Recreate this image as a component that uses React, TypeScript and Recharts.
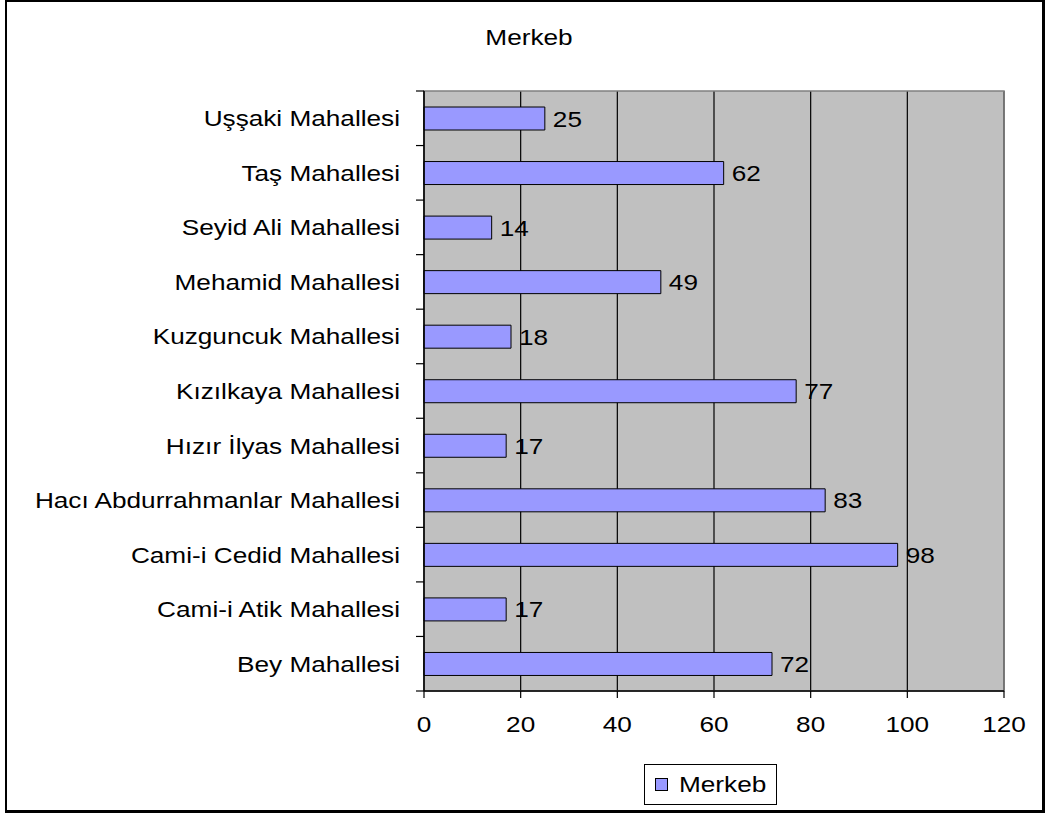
import React from 'react';
import { BarChart, Bar, XAxis, YAxis, CartesianGrid, LabelList, Legend, ReferenceArea } from 'recharts';

const categories = [
  'Uşşaki Mahallesi',
  'Taş Mahallesi',
  'Seyid Ali Mahallesi',
  'Mehamid Mahallesi',
  'Kuzguncuk Mahallesi',
  'Kızılkaya Mahallesi',
  'Hızır İlyas Mahallesi',
  'Hacı Abdurrahmanlar Mahallesi',
  'Cami-i Cedid Mahallesi',
  'Cami-i Atik Mahallesi',
  'Bey Mahallesi',
];
const merkebValues = [25, 62, 14, 49, 18, 77, 17, 83, 98, 17, 72];
const xTicks = [0, 20, 40, 60, 80, 100, 120];
const seriesName = 'Merkeb';
const titleText = 'Merkeb';

const data = categories.map((name, i) => ({ name, Merkeb: merkebValues[i] }));

const W = 1047;
const H = 814;
const PLOT_LEFT = 424;
const PLOT_TOP = 91;
const PLOT_RIGHT = 1004;
const PLOT_BOTTOM = 691;
const XAXIS_H = 40;
const BAND = (PLOT_BOTTOM - PLOT_TOP) / categories.length;
const SX = 1.19;
const FONT = '"Liberation Sans", Arial, sans-serif';
const FS = 22;

const YTick = (props: any) => {
  const { x, y, payload, index } = props;
  const axisX = x + 23;
  return (
    <g>
      <line x1={axisX - 8} x2={axisX} y1={y - BAND / 2} y2={y - BAND / 2} stroke="#000" strokeWidth={1.2} />
      {index === categories.length - 1 && (
        <line x1={axisX - 8} x2={axisX} y1={y + BAND / 2} y2={y + BAND / 2} stroke="#000" strokeWidth={1.2} />
      )}
      <g transform={`translate(${x - 1},${y + 8})`}>
        <text transform={`scale(${SX},1)`} textAnchor="end" fontFamily={FONT} fontSize={FS} fill="#000">
          {payload.value}
        </text>
      </g>
    </g>
  );
};

const XTick = (props: any) => {
  const { x, y, payload } = props;
  return (
    <g transform={`translate(${x},${y + 32})`}>
      <text transform={`scale(${SX},1)`} textAnchor="middle" fontFamily={FONT} fontSize={FS} fill="#000">
        {payload.value}
      </text>
    </g>
  );
};

const ValueLabel = (props: any) => {
  const { x, y, width, height, value } = props;
  return (
    <g transform={`translate(${x + width + 8},${y + height / 2 + 8})`}>
      <text transform={`scale(${SX},1)`} textAnchor="start" fontFamily={FONT} fontSize={FS} fill="#000">
        {value}
      </text>
    </g>
  );
};

const LegendBox = () => (
  <div
    style={{
      width: 133,
      height: 41,
      boxSizing: 'border-box',
      border: '1.5px solid #000',
      background: '#fff',
      display: 'flex',
      alignItems: 'center',
      paddingLeft: 10,
      fontFamily: FONT,
      fontSize: FS,
      color: '#000',
    }}
  >
    <div style={{ width: 13, height: 13, boxSizing: 'border-box', border: '1px solid #000', background: '#9999FF' }} />
    <span style={{ display: 'inline-block', marginLeft: 11, transform: `scaleX(${SX})`, transformOrigin: 'left center', lineHeight: '22px' }}>
      {seriesName}
    </span>
  </div>
);

export default function App() {
  return (
    <div style={{ position: 'absolute', left: 0, top: 0, width: W, height: H, background: '#fff' }}>
      <div
        style={{
          position: 'absolute',
          left: 5,
          top: 0,
          width: 1040,
          height: 813,
          boxSizing: 'border-box',
          borderLeft: '2px solid #000',
          borderTop: '2px solid #000',
          borderRight: '3px solid #000',
          borderBottom: '3px solid #000',
        }}
      />
      <div
        style={{
          position: 'absolute',
          left: 529 - 100,
          top: 25,
          width: 200,
          textAlign: 'center',
          fontFamily: FONT,
          fontSize: FS,
          color: '#000',
          transform: `scaleX(${SX})`,
          transformOrigin: 'center',
          lineHeight: 'normal',
        }}
      >
        {titleText}
      </div>
      <div style={{ position: 'absolute', left: 0, top: 0 }}>
        <BarChart
          width={W}
          height={H}
          data={data}
          layout="vertical"
          margin={{ top: PLOT_TOP, right: W - PLOT_RIGHT, bottom: H - PLOT_BOTTOM - XAXIS_H, left: 0 }}
        >
          <CartesianGrid horizontal={false} vertical={true} stroke="#000" strokeWidth={1.2} fill="#C0C0C0" fillOpacity={1} />
          <ReferenceArea x1={0} x2={120} stroke="#808080" strokeWidth={1.5} fill="none" fillOpacity={0} ifOverflow="visible" />
          <XAxis
            type="number"
            domain={[0, 120]}
            ticks={xTicks}
            interval={0}
            height={XAXIS_H}
            tickSize={7}
            tickMargin={2}
            axisLine={{ stroke: '#000', strokeWidth: 1.5 }}
            tickLine={{ stroke: '#000', strokeWidth: 1.2 }}
            tick={<XTick />}
          />
          <YAxis
            type="category"
            dataKey="name"
            width={PLOT_LEFT}
            interval={0}
            tickSize={8}
            tickMargin={15}
            tickLine={false}
            axisLine={{ stroke: '#000', strokeWidth: 1.5 }}
            tick={<YTick />}
          />
          <Legend
            layout="vertical"
            align="center"
            verticalAlign="middle"
            wrapperStyle={{ position: 'absolute', left: 644, top: 764, width: 133, height: 41 }}
            content={() => <LegendBox />}
          />
          <Bar dataKey="Merkeb" name={seriesName} fill="#9999FF" stroke="#000" strokeWidth={1} barSize={23} isAnimationActive={false}>
            <LabelList dataKey="Merkeb" content={<ValueLabel />} />
          </Bar>
        </BarChart>
      </div>
    </div>
  );
}
